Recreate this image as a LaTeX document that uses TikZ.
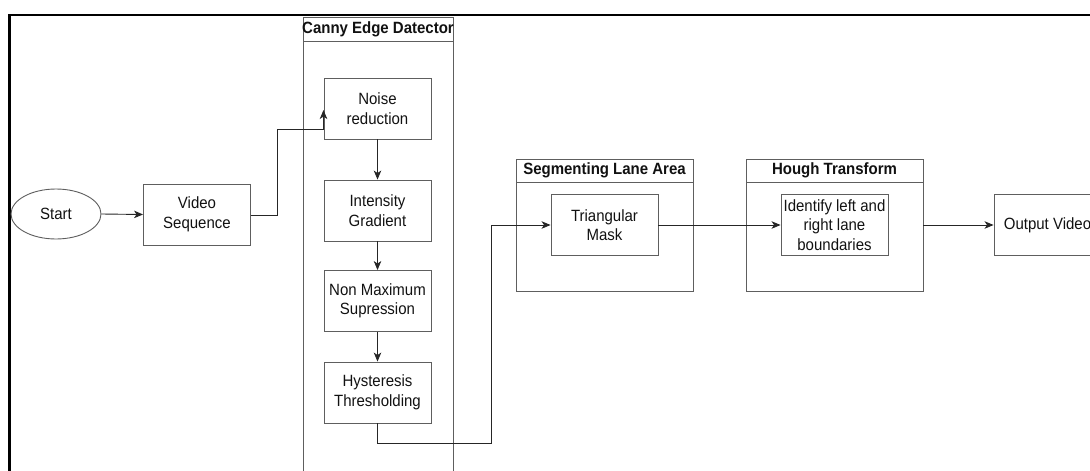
\documentclass[tikz,border=0pt]{standalone}
\usepackage{fontspec}
\setmainfont{Liberation Sans}[FakeStretch=0.92]
\usetikzlibrary{arrows.meta,shapes.geometric,calc}
\definecolor{boxline}{HTML}{5E5E5E}
\definecolor{txt}{HTML}{111111}
\tikzset{
  every node/.style={font=\fontsize{16.3}{19.5}\selectfont, text=txt},
  stepbox/.style={draw=boxline, line width=0.9pt, rectangle, inner sep=0pt,
    minimum width=107pt, minimum height=61pt, align=center},
  lane/.style={draw=boxline, line width=0.9pt},
  lanetitle/.style={font=\fontsize{16.3}{19.5}\selectfont\bfseries, inner sep=0pt},
  arr/.style={draw=black!85, line width=0.9pt, -{Stealth[length=9pt,width=7.5pt,inset=2.5pt]}},
}
\begin{document}
\begin{tikzpicture}[x=1pt,y=-1pt]
\useasboundingbox (0,0) rectangle (1090,471);

% outer frame (top and left edges)
\draw[line width=2.6pt, black] (9.5,471) -- (9.5,15) -- (1095,15);

% swimlane: Canny Edge Datector
\draw[lane] (303,475) -- (303,17) -- (453,17) -- (453,475);
\draw[lane] (303,41) -- (453,41);
\node[lanetitle] (cannyT) at (378,29.5) {Canny Edge Datector};

% swimlane: Segmenting Lane Area
\draw[lane] (516,159) rectangle (693,291);
\draw[lane] (516,182) -- (693,182);
\node[lanetitle] (segT) at (604.5,170.5) {Segmenting Lane Area};

% swimlane: Hough Transform
\draw[lane] (746,159) rectangle (923,291);
\draw[lane] (746,182) -- (923,182);
\node[lanetitle] (houghT) at (834.5,170.5) {Hough Transform};
\coordinate (houghR) at (923,225);

% nodes
\node[ellipse, draw=boxline, line width=0.9pt, minimum width=90pt, minimum height=50pt, inner sep=0pt]
  (start) at (56,214) {Start};
\node[stepbox] (video) at (197,214.5) {Video\\Sequence};
\node[stepbox] (noise) at (377.5,108.5) {Noise\\reduction};
\node[stepbox] (grad) at (377.5,210.5) {Intensity\\Gradient};
\node[stepbox] (nms) at (377.5,301) {Non Maximum\\Supression};
\node[stepbox] (hyst) at (377.5,392.5) {Hysteresis\\Thresholding};
\node[stepbox] (mask) at (604.5,225) {Triangular\\Mask};
\node[stepbox] (ident) at (834.5,225) {Identify left and\\right lane\\boundaries};
\node[stepbox] (out) at (1047.5,225) {Output Video};

% routing points
\coordinate (j1) at (277,215);
\coordinate (j2) at (277,129);
\coordinate (j3) at (323.5,129);
\coordinate (j4) at (323.5,110);
\coordinate (h1) at (377.5,443);
\coordinate (h2) at (491,443);
\coordinate (h3) at (491,225);

% connectors
\draw[arr] (start.east) -- (video.west);
\draw[arr] (video.east |- j1) -- (j1) -- (j2) -- (j3) -- (j4);
\draw[arr] (noise.south) -- (grad.north);
\draw[arr] (grad.south) -- (nms.north);
\draw[arr] (nms.south) -- (hyst.north);
\draw[arr] (hyst.south) -- (h1) -- (h2) -- (h3) -- (mask.west);
\draw[arr] (mask.east) -- (ident.west);
\draw[arr] (houghR) -- (out.west);
\end{tikzpicture}
\end{document}
